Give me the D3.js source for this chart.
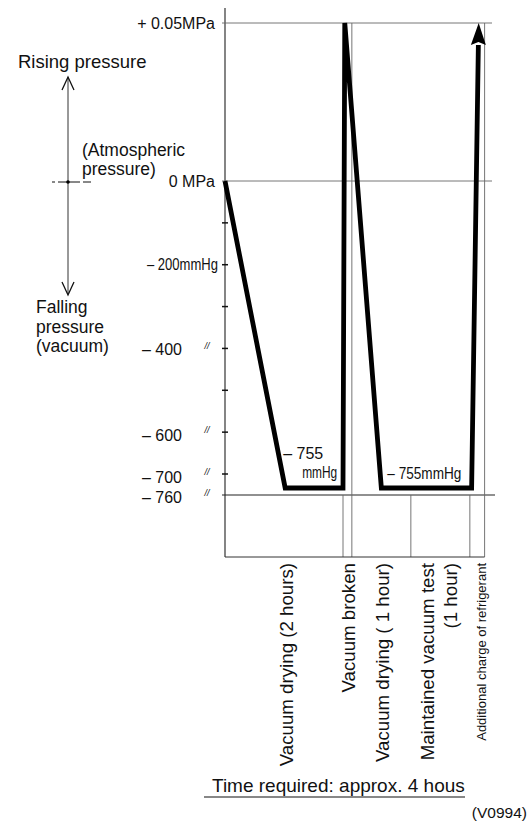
<!DOCTYPE html>
<html lang="en">
<head>
<meta charset="utf-8" />
<title>Vacuum drying procedure</title>
<script src="https://cdnjs.cloudflare.com/ajax/libs/d3/7.8.5/d3.min.js"></script>
<style>
  body { margin: 0; background: #fff; }
  text { font-family: "Liberation Sans", Arial, sans-serif; fill: #111; }
</style>
</head>
<body>
<svg width="530" height="828"></svg>
<script>
// time in hours, pressure in mmHg gauge (375 mmHg ~ +0.05 MPa)
var stageEnds = [0, 2, 2.15, 3.15, 4.15, 4.4];
var stageNames = [
    ["Vacuum drying (2 hours)"],
    ["Vacuum broken"],
    ["Vacuum drying ( 1 hour)"],
    ["Maintained vacuum test", "(1 hour)"],
    ["Additional charge of refrigerant"]
];
var curveTime = [0, 1.02, 2, 2.03, 2.65, 4.18, 4.3];
var curvePressure = [0, -755, -755, 375, -755, -755, 375];
var gridValues = [375, 0, -760];
var minorTicks = [-100, -200, -300, -400, -500, -600, -700];
var labelValues = [375, 0, -200, -400, -600, -700, -760];
var labelTexts = ["+ 0.05MPa", "0 MPa", "\u2013 200mmHg", "\u2013 400", "\u2013 600", "\u2013 700", "\u2013 760"];

var svg = d3.select("svg");
var bottomY = 557;

// schematic scale, not proportional
var y = d3.scaleLinear()
    .domain([-760, -755, -700, 0, 375])
    .range([495, 488, 474, 181, 23]);
var x = d3.scaleLinear()
    .domain([0, 4.4])
    .range([225, 484.6]);

var x0 = x(0);

// axis line
svg.append("line")
    .attr("x1", x0).attr("x2", x0)
    .attr("y1", 8).attr("y2", bottomY)
    .attr("stroke", "#333").attr("stroke-width", 1.2);

// horizontal guides
svg.selectAll(".hgrid").data(gridValues).enter().append("line")
    .attr("class", "hgrid")
    .attr("x1", x0 - 3)
    .attr("x2", function (d) { return d == -760 ? 495 : 492; })
    .attr("y1", function (d) { return y(d); })
    .attr("y2", function (d) { return y(d); })
    .attr("stroke", function (d) { return d == -760 ? "#222" : "#666"; })
    .attr("stroke-width", function (d) { return d == -760 ? 1.2 : 0.9; });

// vertical stage lines
svg.selectAll(".vgrid").data(stageEnds.slice(1)).enter().append("line")
    .attr("class", "vgrid")
    .attr("x1", function (d) { return x(d); })
    .attr("x2", function (d) { return x(d); })
    .attr("y1", function (d, i) { return (i == 1 || i == 4) ? y(375) : y(-760); })
    .attr("y2", bottomY)
    .attr("stroke", "#666").attr("stroke-width", 0.9);

// time baseline
svg.append("line")
    .attr("x1", x0).attr("x2", x(4.4))
    .attr("y1", bottomY).attr("y2", bottomY)
    .attr("stroke", "#333").attr("stroke-width", 1);

// minor ticks on the axis
svg.selectAll(".tick").data(minorTicks).enter().append("line")
    .attr("x1", x0 - 3).attr("x2", x0 + 3)
    .attr("y1", function (d) { return y(d); })
    .attr("y2", function (d) { return y(d); })
    .attr("stroke", "#111").attr("stroke-width", 1.5);

// pressure labels
var labelEnd = [215, 215, 218, 182, 182, 182, 182];
var labelShift = [0, 0, 0, 1, 3, 3, 2];
svg.selectAll(".ylab").data(labelValues).enter().append("text")
    .attr("class", "ylab")
    .attr("x", function (d, i) { return labelEnd[i]; })
    .attr("y", function (d, i) { return y(d) + labelShift[i]; })
    .attr("dy", "0.35em")
    .attr("text-anchor", "end")
    .attr("font-size", 16)
    .attr("textLength", function (d, i) { return i == 2 ? 71 : null; })
    .attr("lengthAdjust", "spacingAndGlyphs")
    .text(function (d, i) { return labelTexts[i]; });

// ditto marks
svg.selectAll(".ditto").data(labelValues.slice(3)).enter().append("text")
    .attr("x", 207)
    .attr("y", function (d) { return y(d) + 1; })
    .attr("text-anchor", "middle")
    .attr("font-size", 9)
    .attr("font-style", "italic")
    .text("//");

// pressure curve with arrow
var pts = curveTime.map(function (t, i) { return [x(t), y(curvePressure[i])]; });
var tip = pts[pts.length - 1];
var prev = pts[pts.length - 2];
var dx = tip[0] - prev[0], dy = tip[1] - prev[1];
var len = Math.sqrt(dx * dx + dy * dy);
var ux = dx / len, uy = dy / len;
var base = [tip[0] - ux * 22, tip[1] - uy * 22];
var linePts = pts.slice(0, -1).concat([base]);

svg.append("path")
    .attr("d", d3.line()(linePts))
    .attr("fill", "none")
    .attr("stroke", "#000")
    .attr("stroke-width", 4.8)
    .attr("stroke-linejoin", "miter")
    .attr("stroke-miterlimit", 3);

svg.append("path")
    .attr("d", d3.line()([
        tip,
        [base[0] - uy * 7.5, base[1] + ux * 7.5],
        [tip[0] - ux * 19, tip[1] - uy * 19],
        [base[0] + uy * 7.5, base[1] - ux * 7.5]
    ]) + "Z")
    .attr("fill", "#000");

// -755 annotations
svg.append("text")
    .attr("x", x(curveTime[1]) - 2).attr("y", y(-755) - 35)
    .attr("dy", "0.35em").attr("font-size", 16)
    .text("\u2013 755");
svg.append("text")
    .attr("x", x(curveTime[1]) + 17).attr("y", y(-755) - 16)
    .attr("dy", "0.35em").attr("font-size", 16)
    .attr("textLength", 35).attr("lengthAdjust", "spacingAndGlyphs")
    .text("mmHg");
svg.append("text")
    .attr("x", x(curveTime[4]) + 6).attr("y", y(-755) - 15)
    .attr("dy", "0.35em").attr("font-size", 16)
    .attr("textLength", 74).attr("lengthAdjust", "spacingAndGlyphs")
    .text("\u2013 755mmHg");

// left side legend
var legend = svg.append("g");
legend.append("line")
    .attr("x1", 68).attr("x2", 68).attr("y1", 77).attr("y2", 294)
    .attr("stroke", "#333").attr("stroke-width", 1);
legend.append("path")
    .attr("d", "M62,90L68,77L74,90M62,282L68,295L74,282")
    .attr("fill", "none").attr("stroke", "#111").attr("stroke-width", 1.3);
legend.append("line")
    .attr("x1", 52).attr("x2", 92).attr("y1", y(0) + 1).attr("y2", y(0) + 1)
    .attr("stroke", "#111").attr("stroke-width", 1)
    .attr("stroke-dasharray", "3,3,22,3,8");
legend.append("circle")
    .attr("cx", 68).attr("cy", y(0) + 1).attr("r", 1.8).attr("fill", "#000");

var legendText = [
    [["Rising pressure"], 18, 62, 18.5],
    [["(Atmospheric", "pressure)"], 82, 149.5, 17.5],
    [["Falling", "pressure", "(vacuum)"], 36, 307, 17.5]
];
legend.selectAll("text").data(legendText).enter().append("text")
    .attr("font-size", function (d) { return d[3]; })
    .each(function (d) {
        var t = d3.select(this);
        d[0].forEach(function (s, j) {
            t.append("tspan")
                .attr("x", d[1])
                .attr("y", d[2] + j * 19.5)
                .attr("dy", "0.35em")
                .text(s);
        });
    });

// stage names under the time axis
var stageCenters = [286, 348, 382, 427, 481];
stageNames.forEach(function (lines, i) {
    var g = svg.append("g")
        .attr("transform", "translate(" + stageCenters[i] + ",563) rotate(-90)");
    var t = g.append("text")
        .attr("text-anchor", "end")
        .attr("font-size", i == 4 ? 13 : 18.7);
    lines.forEach(function (s, j) {
        t.append("tspan")
            .attr("x", 0)
            .attr("y", j * 23)
            .attr("dy", "0.35em")
            .text(s);
    });
});

// footer
svg.append("text")
    .attr("x", 212).attr("y", 785).attr("dy", "0.35em")
    .attr("font-size", 19)
    .text("Time required: approx. 4 hous");
svg.append("line")
    .attr("x1", 204).attr("x2", 465).attr("y1", 797).attr("y2", 797)
    .attr("stroke", "#111").attr("stroke-width", 1.2);
svg.append("text")
    .attr("x", 527).attr("y", 813).attr("dy", "0.35em")
    .attr("text-anchor", "end")
    .attr("font-size", 15.5)
    .text("(V0994)");
</script>
</body>
</html>
